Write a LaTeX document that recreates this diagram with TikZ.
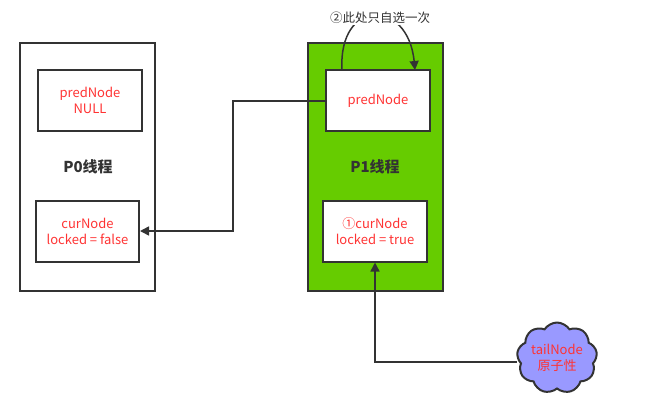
\documentclass[tikz,border=0pt]{standalone}
\usepackage{fontspec}
\setmainfont{Noto Sans CJK SC}
\usetikzlibrary{shapes.symbols,arrows.meta}
\definecolor{dk}{HTML}{333333}
\definecolor{rd}{HTML}{FF3333}
\definecolor{gr}{HTML}{66CC00}
\definecolor{cl}{HTML}{9999FF}
\begin{document}
\begin{tikzpicture}[x=1pt,y=-1pt,
  outer/.style={draw=dk,line width=2pt,minimum width=135pt,minimum height=248pt,inner sep=0pt},
  inbox/.style={draw=dk,line width=2pt,fill=white,minimum width=104pt,minimum height=61pt,align=center,text=rd,font=\fontsize{13}{15.5}\selectfont,inner sep=0pt},
  ttl/.style={font=\fontsize{15}{17}\selectfont\bfseries,text=dk},
  conn/.style={draw=dk,line width=1.5pt,-{Triangle[length=9pt,width=9pt]}}]
\useasboundingbox (0,0) rectangle (645,416);
\node[outer] (p0) at (87.5,167) {};
\node[outer,fill=gr] (p1) at (375,167) {};
\node[inbox] (pn0) at (90,100.5) {predNode\\NULL};
\node[ttl] (t0) at (88,167) {P0线程};
\node[inbox,minimum width=103pt] (cn0) at (87.5,231.5) {curNode\\locked = false};
\node[inbox] (pn1) at (378,100.5) {predNode};
\node[ttl] (t1) at (375,167) {P1线程};
\node[inbox] (cn1) at (375,231) {①curNode\\locked = true};
\node[cloud,cloud puffs=9,cloud puff arc=115,aspect=1.2,draw=dk,line width=2pt,fill=cl,minimum width=80pt,minimum height=64pt,inner sep=0pt,align=center,text=rd,font=\fontsize{13}{15.5}\selectfont] (cloud) at (557,358) {tailNode\\原子性};
\coordinate (a1) at (342,70);
\coordinate (a2) at (415,70);
\draw[conn] (a1) .. controls (338,-2) and (408,-2) .. (a2);
\node[font=\fontsize{12.5}{14}\selectfont,text=dk,fill=white,inner sep=1pt] (lbl) at (380,18) {②此处只自选一次};
\coordinate (b1) at (233,101);
\coordinate (b2) at (233,231);
\draw[conn] (pn1.west |- 0,101) -- (b1) -- (b2) -- (cn0.east |- b2);
\coordinate (c1) at (375,362);
\draw[conn] (cloud.west |- 0,362) -- (c1) -- (cn1.south);
\end{tikzpicture}
\end{document}
